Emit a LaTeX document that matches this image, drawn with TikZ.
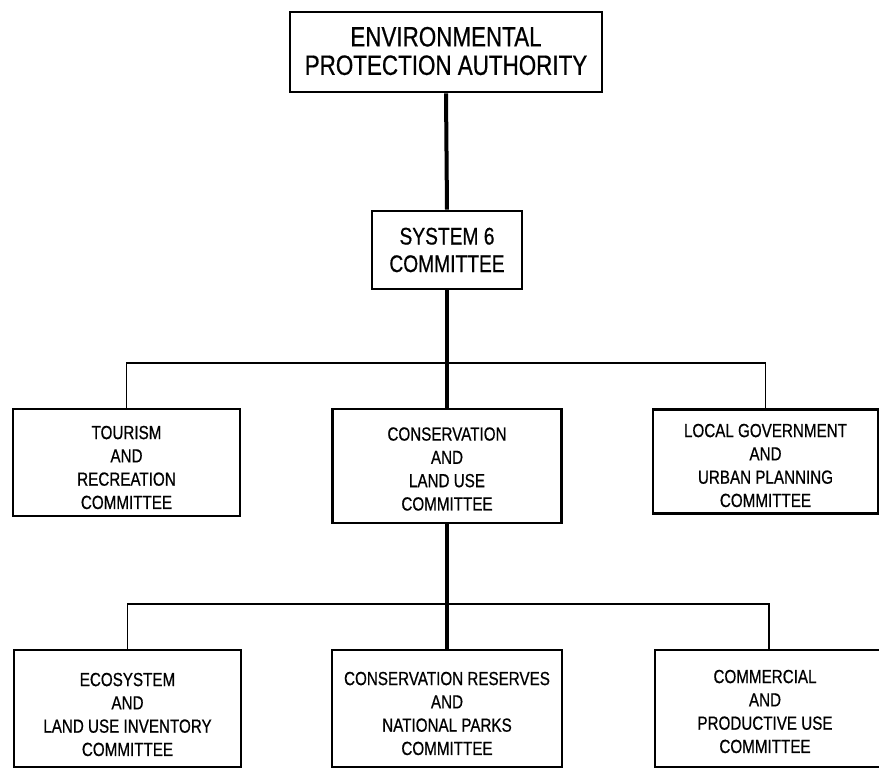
\documentclass[tikz,border=0pt]{standalone}
\usepackage{fontspec}
\setmainfont{Liberation Sans}[FakeStretch=0.8,FakeBold=0.6]
\begin{document}
\begin{tikzpicture}[x=1pt,y=-1pt,
  box/.style={draw=black,line width=2.6pt,rectangle,inner sep=0pt},
  txt/.style={align=center,inner sep=0pt,font=\fontsize{19}{23.3}\selectfont},
  trunk/.style={line width=4pt},
  branch/.style={line width=1.8pt}]
\useasboundingbox (0,0) rectangle (879,768);
\fill[white] (0,0) rectangle (879,768);
\node[box,minimum width=312pt,minimum height=80pt] (epa) at (446,52) {};
\node[txt,font=\fontsize{28}{28.5}\selectfont] (epat) at ([yshift=1pt]epa.center) {ENVIRONMENTAL\\PROTECTION AUTHORITY};
\node[box,minimum width=150pt,minimum height=78pt] (sys) at (447,250) {};
\node[txt,font=\fontsize{24}{27.5}\selectfont] (syst) at (sys.center) {SYSTEM 6\\COMMITTEE};
\node[box,minimum width=227pt,minimum height=107pt] (tour) at (126.5,462.5) {};
\node[txt] (tourt) at ([yshift=-5pt]tour.center) {TOURISM\\AND\\RECREATION\\COMMITTEE};
\node[box,minimum width=229pt,minimum height=114pt] (cons) at (447,466) {};
\node[txt] (const) at ([yshift=-3pt]cons.center) {CONSERVATION\\AND\\LAND USE\\COMMITTEE};
\node[box,minimum width=225pt,minimum height=104pt] (local) at (765.5,461.5) {};
\node[txt] (localt) at ([yshift=-4pt]local.center) {LOCAL GOVERNMENT\\AND\\URBAN PLANNING\\COMMITTEE};
\node[box,minimum width=227pt,minimum height=117pt] (eco) at (127.5,708.5) {};
\node[txt] (ecot) at ([yshift=-6pt]eco.center) {ECOSYSTEM\\AND\\LAND USE INVENTORY\\COMMITTEE};
\node[box,minimum width=230pt,minimum height=117pt] (res) at (447,708.5) {};
\node[txt] (rest) at ([yshift=-5pt]res.center) {CONSERVATION RESERVES\\AND\\NATIONAL PARKS\\COMMITTEE};
\node[box,minimum width=228pt,minimum height=117pt] (com) at (769,708.5) {};
\node[txt] (comt) at ([xshift=-4pt,yshift=-3pt]com.center) {COMMERCIAL\\AND\\PRODUCTIVE USE\\COMMITTEE};
\coordinate (b1) at (447,363);
\coordinate (b2) at (447,604);
\draw[trunk] (epa.south) -- (sys.north);
\draw[trunk] (sys.south) -- (cons.north);
\draw[trunk] (cons.south) -- (res.north);
\draw[branch] (tour.north) |- (b1) -| (local.north);
\draw[branch] (eco.north) |- (b2) -| (com.north);
\end{tikzpicture}
\end{document}
